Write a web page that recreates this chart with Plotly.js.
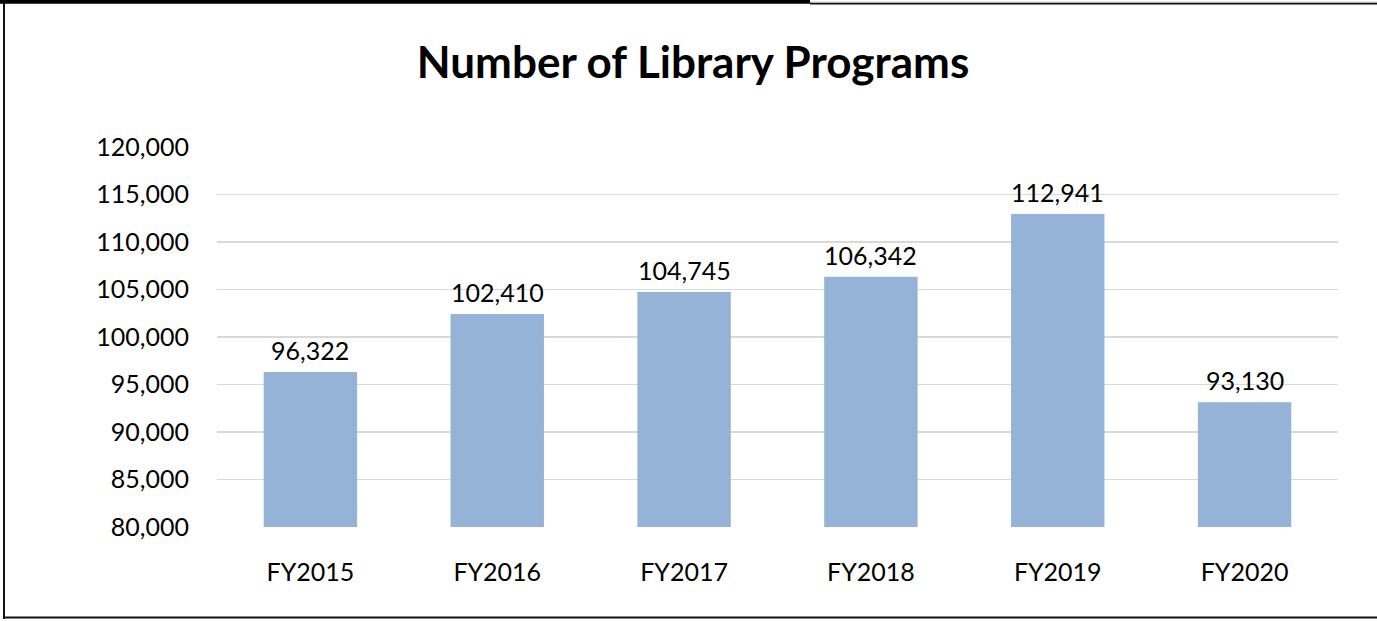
<!DOCTYPE html>
<html>
<head>
<meta charset="utf-8">
<script src="https://cdn.plot.ly/plotly-3.0.1.min.js"></script>
<style>html,body{margin:0;padding:0;background:#fff;}#chart{width:1377px;height:621px;}</style>
</head>
<body>
<div id="chart"></div>
<script>
const categories = ["FY2015", "FY2016", "FY2017", "FY2018", "FY2019", "FY2020"];
const programs = [96322, 102410, 104745, 106342, 112941, 93130];
const yTickValues = [80000, 85000, 90000, 95000, 100000, 105000, 110000, 115000, 120000];

const W = 1377, H = 621, L = 217, R = 39, T = 147, B = 94;
const pw = W - L - R, ph = H - T - B;
const px = v => (v - L) / pw;
const py = v => (H - B - v) / ph;
const fmt = v => v.toLocaleString("en-US");

const trace = {
  type: "bar",
  x: categories,
  y: programs,
  marker: {color: "#95b3d7"},
  hoverinfo: "none"
};

const labelAnnotations = categories.map((c, i) => ({
  x: c, y: programs[i], xref: "x", yref: "y",
  text: fmt(programs[i]), showarrow: false,
  xanchor: "center", yanchor: "bottom", yshift: 5,
  font: {family: "Lato, sans-serif", size: 25, color: "#000"}
}));

const layout = {
  width: W, height: H,
  margin: {l: L, r: R, t: T, b: B, pad: 0},
  paper_bgcolor: "#fff", plot_bgcolor: "#fff",
  showlegend: false,
  bargap: 0.5,
  title: {text: "<b>Number of Library Programs</b>", x: 693 / W, xref: "container", xanchor: "center",
          y: 1 - 63 / H, yref: "container", yanchor: "middle",
          font: {family: "Lato, sans-serif", size: 44, color: "#000"}},
  xaxis: {type: "category", showgrid: false, zeroline: false, showline: false, ticks: "",
          ticklabelstandoff: 28,
          tickfont: {family: "Lato, sans-serif", size: 25, color: "#000"}},
  yaxis: {range: [80000, 120000], tickvals: yTickValues,
          ticktext: yTickValues.map(fmt),
          showgrid: true, gridcolor: "#d9d9d9", gridwidth: 1.5, zeroline: false, showline: false,
          ticks: "", ticklabelstandoff: 27,
          tickfont: {family: "Lato, sans-serif", size: 25, color: "#000"}},
  annotations: labelAnnotations,
  shapes: [
    {type: "rect", xref: "paper", yref: "paper", x0: px(0), x1: px(810), y0: py(3.8), y1: py(0),
     fillcolor: "#000", line: {width: 0}},
    {type: "line", xref: "paper", yref: "paper", x0: px(810), x1: px(W), y0: py(2.3), y1: py(2.3),
     line: {color: "#999", width: 1}},
    {type: "line", xref: "paper", yref: "paper", x0: px(810), x1: px(W), y0: py(3.8), y1: py(3.8),
     line: {color: "#111", width: 1.6}},
    {type: "line", xref: "paper", yref: "paper", x0: px(4), x1: px(4), y0: py(0), y1: py(619),
     line: {color: "#111", width: 2}},
    {type: "line", xref: "paper", yref: "paper", x0: px(4), x1: px(W), y0: py(617.5), y1: py(617.5),
     line: {color: "#111", width: 2}}
  ]
};

Plotly.newPlot("chart", [trace], layout, {displayModeBar: false, staticPlot: true});
</script>
</body>
</html>
